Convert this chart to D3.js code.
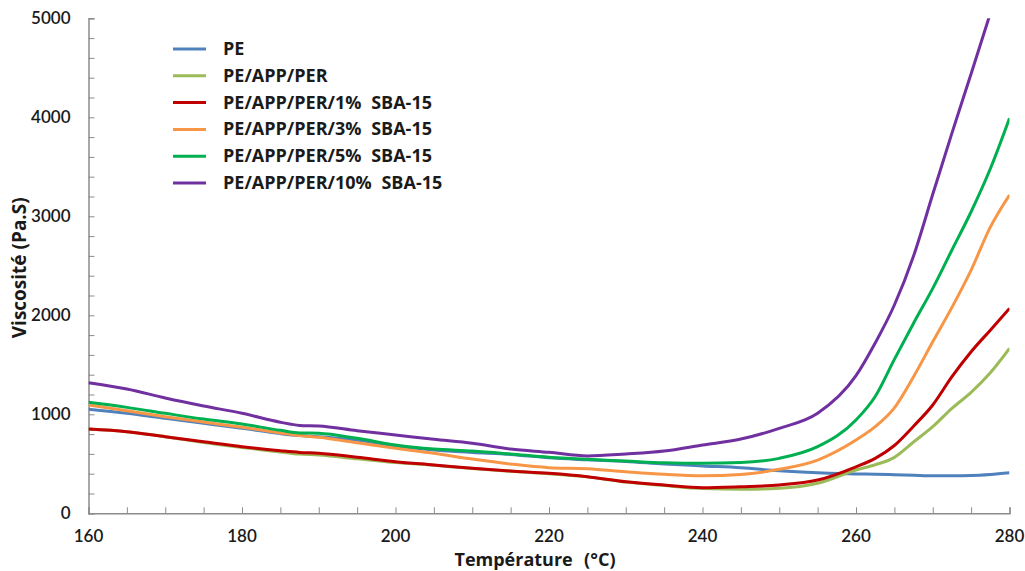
<!DOCTYPE html>
<html>
<head>
<meta charset="utf-8">
<script src="https://cdn.jsdelivr.net/npm/d3@7"></script>
<style>
  html, body { margin: 0; padding: 0; background: #fff; }
  svg { display: block; font-family: Lato, "Open Sans", sans-serif; }
  .ttl { font-family: "Open Sans", Lato, sans-serif; white-space: pre; }
</style>
</head>
<body>
<svg id="chart" width="1025" height="571"></svg>
<script>
// ---------- data ----------
const temps = [160,165,170,175,180,185,187.5,190,195,200,205,210,215,220,225,230,235,240,245,250,255,260,262.5,265,267.5,270,272.5,275,277.5,280];

const seriesNames = ["PE","PE/APP/PER","PE/APP/PER/1% SBA-15","PE/APP/PER/3% SBA-15","PE/APP/PER/5% SBA-15","PE/APP/PER/10% SBA-15"];
const seriesColors = ["#4F81BD","#9BBB59","#C00000","#F79646","#00B050","#7030A0"];

const pe      = [1050,1010,959,909,858,805,785,774,740,680,640,615,595,560,540,523,498,478,460,430,410,397,395,390,385,380,380,382,392,410];
const peAppPer= [851,824,774,715,665,620,598,589,550,512,485,452,425,400,368,315,280,250,242,252,303,437,490,565,720,875,1060,1222,1420,1666];
const sba1    = [851,824,774,723,673,632,615,606,566,521,488,454,427,404,370,319,286,259,269,286,336,470,555,685,880,1094,1380,1632,1850,2070];
const sba3    = [1094,1036,976,922,869,812,785,768,713,656,606,548,498,461,450,420,394,380,392,444,538,740,875,1065,1380,1733,2080,2457,2890,3215];
const sba5    = [1121,1070,1010,952,902,838,812,808,757,690,649,629,599,566,545,528,511,505,512,555,673,942,1180,1555,1920,2272,2660,3046,3480,3990];
const sba10   = [1319,1255,1165,1084,1010,920,888,882,834,791,747,707,649,616,579,599,629,690,750,858,1010,1390,1720,2104,2600,3222,3840,4440,5050,null];

const seriesValues = [pe, peAppPer, sba1, sba3, sba5, sba10];

const xDomain = [160, 280];
const yDomain = [0, 5000];
const xMajorTicks = [160,180,200,220,240,260,280];
const yMajorTicks = [0,1000,2000,3000,4000,5000];
const xTitle = "Température  (°C)";
const yTitle = "Viscosité (Pa.S)";

// ---------- layout ----------
const svg = d3.select("#chart");
const mLeft = 88.5, mRight = 1009.5, mTop = 18.3, mBottom = 513.3;

const x = d3.scaleLinear().domain(xDomain).range([mLeft, mRight]);
const y = d3.scaleLinear().domain(yDomain).range([mBottom, mTop]);

const axisColor = "#8c8c8c";
const textColor = "#1a1a1a";

// clip
svg.append("defs").append("clipPath").attr("id","plotclip")
  .append("rect").attr("x", mLeft).attr("y", mTop).attr("width", mRight-mLeft).attr("height", mBottom-mTop);

// minor ticks (every 5 °C, every 200 Pa.s), inward
const xMinor = d3.range(160, 280.001, 5);
const yMinor = d3.range(0, 5000.001, 200);

const xAxis = d3.axisBottom(x).tickValues(xMinor).tickSize(-6).tickFormat("");
const yAxis = d3.axisLeft(y).tickValues(yMinor).tickSize(-6).tickFormat("");

const gx = svg.append("g").attr("transform", `translate(0,${mBottom})`).call(xAxis);
const gy = svg.append("g").attr("transform", `translate(${mLeft},0)`).call(yAxis);
[gx, gy].forEach(g => {
  g.select(".domain").attr("stroke", axisColor).attr("stroke-width", 1.5);
  g.selectAll(".tick line").attr("stroke", axisColor).attr("stroke-width", 1);
});

// major labels
svg.append("g").selectAll("text").data(xMajorTicks).join("text")
  .attr("x", d => x(d)).attr("y", mBottom + 29)
  .attr("text-anchor", "middle")
  .attr("font-size", 17).attr("font-weight", 600).attr("fill", textColor)
  .text(d => d);

svg.append("g").selectAll("text").data(yMajorTicks).join("text")
  .attr("x", mLeft - 18).attr("y", d => y(d) + 6)
  .attr("text-anchor", "end")
  .attr("font-size", 17).attr("font-weight", 600).attr("fill", textColor)
  .text(d => d);

// axis titles
svg.append("text").attr("class", "ttl")
  .attr("x", 535).attr("y", 566)
  .attr("text-anchor", "middle")
  .attr("font-size", 18).attr("font-weight", 700).attr("fill", textColor)
  .attr("word-spacing", 1)
  .text(xTitle);

svg.append("text").attr("class", "ttl")
  .attr("transform", `translate(26,${(mTop+mBottom)/2 + 2}) rotate(-90)`)
  .attr("text-anchor", "middle")
  .attr("font-size", 19).attr("font-weight", 700).attr("fill", textColor)
  .text(yTitle);

// lines
const line = d3.line()
  .defined(d => d[1] !== null)
  .x(d => x(d[0])).y(d => y(d[1]))
  .curve(d3.curveMonotoneX);

const plot = svg.append("g").attr("clip-path", "url(#plotclip)");
seriesValues.forEach((vals, i) => {
  plot.append("path")
    .datum(temps.map((t, j) => [t, vals[j]]))
    .attr("fill", "none")
    .attr("stroke", seriesColors[i])
    .attr("stroke-width", 3)
    .attr("stroke-linejoin", "round")
    .attr("d", line);
});

// legend
const legendY0 = 49, legendStep = 26.8;
const lg = svg.append("g");
seriesNames.forEach((name, i) => {
  const yy = legendY0 + i * legendStep;
  lg.append("line").attr("x1", 173).attr("x2", 206).attr("y1", yy).attr("y2", yy)
    .attr("stroke", seriesColors[i]).attr("stroke-width", 3);
  lg.append("text").attr("class", "ttl").attr("x", 223).attr("y", yy + 6)
    .attr("font-size", 18).attr("font-weight", 700).attr("fill", textColor)
    .attr("word-spacing", 5)
    .text(name);
});
</script>
</body>
</html>
